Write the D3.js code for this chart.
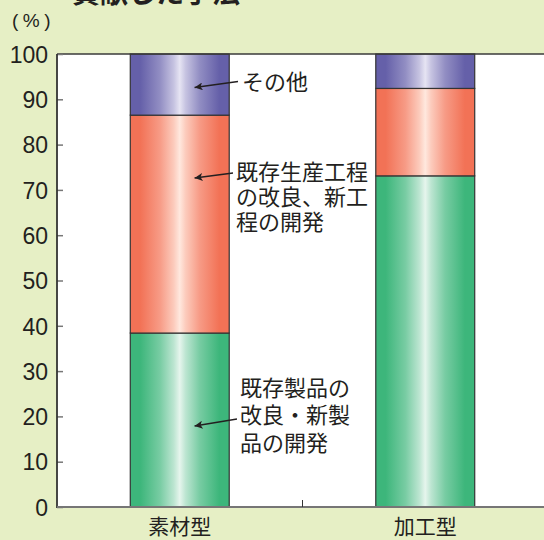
<!DOCTYPE html>
<html>
<head>
<meta charset="utf-8">
<script src="https://cdn.jsdelivr.net/npm/d3@7"></script>
<style>
  html, body { margin: 0; padding: 0; background: #e6efc5; }
  svg { display: block; }
  text { font-family: "Noto Sans CJK JP", "Noto Sans", sans-serif; fill: #231f20; }
  .num { font-family: "Liberation Sans", Arial, sans-serif; }
</style>
</head>
<body>
<svg id="chart" width="544" height="540"></svg>
<script>
// Categories and stacked shares (%)
const categories = ["素材型", "加工型"];
const seriesKeys = ["既存製品の改良・新製品の開発", "既存生産工程の改良、新工程の開発", "その他"];
const seriesValues = {
  "既存製品の改良・新製品の開発": [38.4, 73.1],
  "既存生産工程の改良、新工程の開発": [48.1, 19.3],
  "その他": [13.5, 7.6]
};
const yTicks = [0, 10, 20, 30, 40, 50, 60, 70, 80, 90, 100];
const seriesLabelLines = {
  "その他": ["その他"],
  "既存生産工程の改良、新工程の開発": ["既存生産工程", "の改良、新工", "程の開発"],
  "既存製品の改良・新製品の開発": ["既存製品の", "改良・新製", "品の開発"]
};
const titleText = "貢献した手法";
const unitText = "(%)";

const svg = d3.select("#chart");
const W = 544, H = 540;
const plot = { left: 57, right: 548, top: 54, bottom: 507 };

const x = d3.scaleBand().domain(categories).range([plot.left, plot.right])
  .paddingInner(0.597).paddingOuter(0.2985);
const y = d3.scaleLinear().domain([0, 100]).range([plot.bottom, plot.top]);

// Bar fills: dark at the edges with a bright stripe down the middle
const palette = {
  "既存製品の改良・新製品の開発": ["#3db67b", "#e6f5ed"],
  "既存生産工程の改良、新工程の開発": ["#f27256", "#ffe8de"],
  "その他": ["#6560a9", "#e6e4f3"]
};
const defs = svg.append("defs");
seriesKeys.forEach((k, i) => {
  const [dark, light] = palette[k];
  const g = defs.append("linearGradient").attr("id", "grad" + i)
    .attr("x1", "0%").attr("x2", "100%").attr("y1", "0%").attr("y2", "0%");
  const mid = d3.interpolateRgb(dark, light);
  [[0, dark], [0.1, dark], [0.3, mid(0.35)], [0.44, mid(0.75)], [0.5, light],
   [0.56, mid(0.75)], [0.7, mid(0.35)], [0.9, dark], [1, dark]]
    .forEach(([o, c]) => g.append("stop").attr("offset", o).attr("stop-color", c));
});

// Title (runs off the top edge)
svg.append("text").attr("x", 72).attr("y", 2.5)
  .attr("font-size", 28).attr("font-weight", "bold").text(titleText);

// Unit label, loosely spaced
svg.append("text").attr("class", "num").attr("x", 12).attr("y", 20).attr("dy", "0.36em")
  .attr("font-size", 19).attr("letter-spacing", 4.5).text(unitText);

// Plot area
svg.append("rect").attr("x", plot.left).attr("y", plot.top)
  .attr("width", W - plot.left).attr("height", plot.bottom - plot.top).attr("fill", "#fff");

// Stacked bars
const rows = categories.map((c, i) => {
  const r = { category: c };
  seriesKeys.forEach(k => r[k] = seriesValues[k][i]);
  return r;
});
const stacked = d3.stack().keys(seriesKeys)(rows);
stacked.forEach((layer, i) => {
  svg.append("g").selectAll("rect").data(layer).join("rect")
    .attr("x", d => x(d.data.category))
    .attr("width", x.bandwidth())
    .attr("y", d => y(d[1]))
    .attr("height", d => y(d[0]) - y(d[1]))
    .attr("fill", `url(#grad${i})`)
    .attr("stroke", "#333").attr("stroke-width", 1.2);
});

// Top frame line
svg.append("line").attr("x1", plot.left).attr("x2", W)
  .attr("y1", plot.top).attr("y2", plot.top).attr("stroke", "#3a3a3a").attr("stroke-width", 1.5);

// Y axis
const yAxis = svg.append("g").attr("transform", `translate(${plot.left},0)`)
  .call(d3.axisRight(y).tickValues(yTicks).tickSize(6).tickFormat(""));
yAxis.select(".domain").remove();
yAxis.selectAll(".tick line").attr("stroke", "#777").attr("stroke-width", 1.5);
yAxis.selectAll(".tick").append("text")
  .attr("class", "num")
  .attr("x", -9).attr("dy", "0.36em").attr("text-anchor", "end")
  .attr("font-size", 23).attr("fill", "#231f20")
  .text(d => d);
svg.append("line").attr("x1", plot.left).attr("x2", plot.left)
  .attr("y1", plot.top).attr("y2", plot.bottom + 1).attr("stroke", "#333").attr("stroke-width", 1.8);

// X axis baseline, divider tick, and category labels
svg.append("line").attr("x1", plot.left).attr("x2", W)
  .attr("y1", plot.bottom).attr("y2", plot.bottom).attr("stroke", "#767676").attr("stroke-width", 2);
const divX = (x(categories[0]) + x.bandwidth() + x(categories[1])) / 2;
svg.append("line").attr("x1", divX).attr("x2", divX)
  .attr("y1", plot.bottom - 7).attr("y2", plot.bottom).attr("stroke", "#333").attr("stroke-width", 1);
svg.append("g").selectAll("text").data(categories).join("text")
  .attr("x", d => x(d) + x.bandwidth() / 2).attr("y", 526).attr("dy", "0.36em")
  .attr("text-anchor", "middle").attr("font-size", 21).text(d => d);

// Callouts with arrows on the first bar
defs.append("marker").attr("id", "arrow").attr("viewBox", "0 0 10 10")
  .attr("refX", 10).attr("refY", 5).attr("markerWidth", 11).attr("markerHeight", 8)
  .attr("orient", "auto").attr("markerUnits", "userSpaceOnUse")
  .append("path").attr("d", "M0,0 L10,5 L0,10 L2.5,5 Z").attr("fill", "#231f20");

const c0 = categories[0];
const arrowTipX = x(c0) + x.bandwidth() * 0.65;
const callouts = [
  { key: "その他", tx: 242, ty: 82, lineGap: 25, fromX: 238, fromY: 81.5, tipY: 87.5 },
  { key: "既存生産工程の改良、新工程の開発", tx: 236, ty: 172, lineGap: 25, fromX: 233, fromY: 173, tipY: 178 },
  { key: "既存製品の改良・新製品の開発", tx: 240, ty: 388, lineGap: 27.5, fromX: 237, fromY: 419, tipY: 426 }
];
callouts.forEach(c => {
  svg.append("line").attr("x1", c.fromX).attr("y1", c.fromY)
    .attr("x2", arrowTipX).attr("y2", c.tipY)
    .attr("stroke", "#231f20").attr("stroke-width", 1.3).attr("marker-end", "url(#arrow)");
  seriesLabelLines[c.key].forEach((line, i) => {
    svg.append("text").attr("font-size", 22)
      .attr("x", c.tx).attr("y", c.ty + i * c.lineGap).attr("dy", "0.36em").text(line);
  });
});
</script>
</body>
</html>
